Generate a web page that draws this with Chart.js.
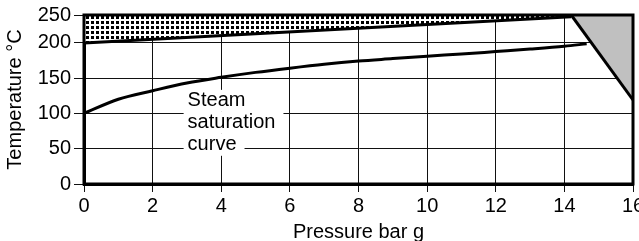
<!DOCTYPE html>
<html>
<head>
<meta charset="utf-8">
<script src="https://cdn.jsdelivr.net/npm/chart.js@4"></script>
<style>
  html, body { margin: 0; padding: 0; background: #fff; }
  #wrap { width: 639px; height: 241px; }
</style>
</head>
<body>
<div id="wrap"><canvas id="myChart"></canvas></div>
<script>
// pressure (bar g) / temperature (°C)
const satPressure = [0, 1, 2, 3, 4, 5, 6, 7, 8, 9, 10, 11, 12, 13, 14, 14.65];
const satTemp = [100, 120, 132, 143, 151, 158, 164, 169.5, 174, 177.5, 181, 184, 187.5, 191, 195, 198.5];
const upperPressure = [0, 14.2];
const upperTemp = [199.5, 247];
const limitPressure = [14.2, 16];
const limitTemp = [250, 119];
const xTicks = [0, 2, 4, 6, 8, 10, 12, 14, 16];
const yTicks = [0, 50, 100, 150, 200, 250];
const noteLines = ['Steam', 'saturation', 'curve'];
const noteX = 3.02;
const noteY = [117.7, 86.6, 55.5];

// the printed y axis is squeezed above 200
const yBreakValues = [0, 200, 250];
const yBreakShare = [0, 0.836, 1];

const FONT = '"Liberation Sans", Arial, Helvetica, sans-serif';

function toPoints(xs, ys) {
    return xs.map((x, i) => ({ x: x, y: ys[i] }));
}

class BrokenScale extends Chart.LinearScale {
    getPixelForValue(value) {
        if (value === null || value === undefined || isNaN(value)) return NaN;
        const v = yBreakValues;
        let i = 1;
        while (i < v.length - 1 && value > v[i]) i++;
        const f = (value - v[i - 1]) / (v[i] - v[i - 1]);
        const dec = yBreakShare[i - 1] + f * (yBreakShare[i] - yBreakShare[i - 1]);
        return this.getPixelForDecimal(dec);
    }
    getValueForPixel(pixel) {
        const dec = this.getDecimalForPixel(pixel);
        const s = yBreakShare;
        let i = 1;
        while (i < s.length - 1 && dec > s[i]) i++;
        const f = (dec - s[i - 1]) / (s[i] - s[i - 1]);
        return yBreakValues[i - 1] + f * (yBreakValues[i] - yBreakValues[i - 1]);
    }
}
BrokenScale.id = 'broken';
BrokenScale.defaults = Chart.LinearScale.defaults;
Chart.register(BrokenScale);

// dotted fill
const pcan = document.createElement('canvas');
pcan.width = 5;
pcan.height = 5;
const pctx = pcan.getContext('2d');
pctx.fillStyle = '#fff';
pctx.fillRect(0, 0, 5, 5);
pctx.fillStyle = '#000';
pctx.fillRect(1, 1, 3, 3);
const dots = pctx.createPattern(pcan, 'repeat');

const frame = {
    id: 'frame',
    afterDatasetsDraw(chart) {
        const c = chart.ctx;
        const a = chart.chartArea;
        c.save();
        c.strokeStyle = '#000';
        c.lineWidth = 3;
        c.strokeRect(a.left, a.top, a.right - a.left, a.bottom - a.top);
        // note with white backing
        const xs = chart.scales.x;
        const ys = chart.scales.y;
        c.font = '20px ' + FONT;
        c.textBaseline = 'middle';
        c.textAlign = 'left';
        noteLines.forEach((t, i) => {
            const px = xs.getPixelForValue(noteX);
            const py = ys.getPixelForValue(noteY[i]);
            const w = c.measureText(t).width;
            c.fillStyle = '#fff';
            c.fillRect(px - 4, py - 11, w + 12, 22);
        });
        c.fillStyle = '#000';
        noteLines.forEach((t, i) => {
            c.fillText(t, xs.getPixelForValue(noteX), ys.getPixelForValue(noteY[i]));
        });
        c.restore();
    }
};

const tickFont = { family: FONT, size: 20 };

const config = {
    type: 'line',
    data: {
        datasets: [{
            data: toPoints(upperPressure, upperTemp),
            borderColor: '#000',
            borderWidth: 3,
            backgroundColor: dots,
            fill: 'end',
            pointRadius: 0
        }, {
            data: toPoints(limitPressure, limitTemp),
            borderColor: '#000',
            borderWidth: 3,
            backgroundColor: '#c0c0c0',
            fill: 'end',
            pointRadius: 0
        }, {
            data: toPoints(satPressure, satTemp),
            borderColor: '#000',
            borderWidth: 3,
            fill: false,
            pointRadius: 0,
            cubicInterpolationMode: 'monotone'
        }]
    },
    options: {
        responsive: true,
        maintainAspectRatio: false,
        animation: false,
        layout: { padding: { top: 15, right: 6, left: 0, bottom: 0 } },
        plugins: {
            legend: { display: false },
            tooltip: { enabled: false }
        },
        scales: {
            x: {
                type: 'linear',
                min: 0,
                max: 16,
                afterBuildTicks: s => { s.ticks = xTicks.map(v => ({ value: v })); },
                afterFit: s => { s.height = 57; s.paddingLeft = 0; s.paddingRight = 0; },
                grid: { color: '#111', lineWidth: 1, tickLength: 8 },
                border: { color: '#000', width: 3 },
                ticks: { color: '#000', font: tickFont, padding: 2, maxRotation: 0 },
                title: {
                    display: true,
                    text: 'Pressure bar g',
                    color: '#000',
                    font: { family: FONT, size: 20 },
                    padding: { top: 0, bottom: -3 }
                }
            },
            y: {
                type: 'broken',
                min: 0,
                max: 250,
                afterBuildTicks: s => { s.ticks = yTicks.map(v => ({ value: v })); },
                afterFit: s => { s.width = 84; s.paddingTop = 0; s.paddingBottom = 0; },
                grid: { color: '#111', lineWidth: 1, tickLength: 10 },
                border: { color: '#000', width: 3 },
                ticks: { color: '#000', font: tickFont, padding: 3 },
                title: {
                    display: true,
                    text: 'Temperature °C',
                    color: '#000',
                    font: { family: FONT, size: 20 },
                    padding: { top: 3, bottom: 0 }
                }
            }
        }
    },
    plugins: [frame]
};

var myChart = new Chart(document.getElementById('myChart'), config);
</script>
</body>
</html>
